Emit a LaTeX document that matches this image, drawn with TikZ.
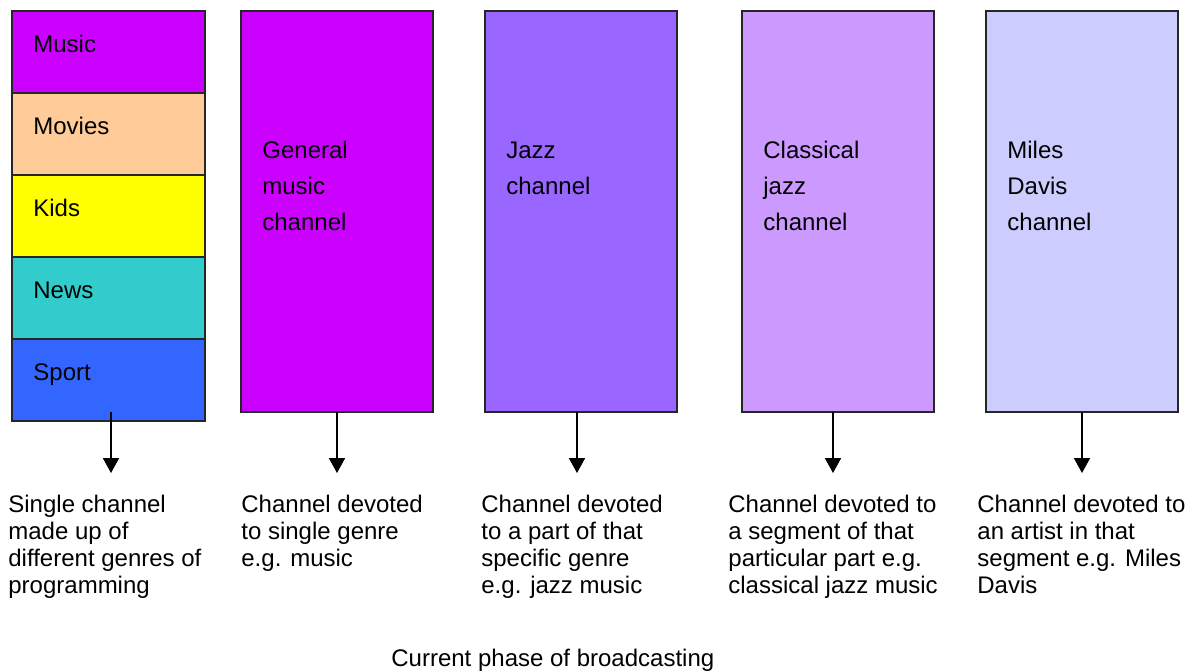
\documentclass[tikz,border=0pt]{standalone}
\usepackage{xcolor}
\usepackage{fontspec}
\setmainfont{Liberation Sans}
\usepackage{tikz}
\usetikzlibrary{positioning,arrows.meta}

\definecolor{musicc}{HTML}{CC00FF}
\definecolor{moviesc}{HTML}{FFCC99}
\definecolor{kidsc}{HTML}{FFFF00}
\definecolor{newsc}{HTML}{33CCCC}
\definecolor{sportc}{HTML}{3366FF}
\definecolor{jazzc}{HTML}{9966FF}
\definecolor{classc}{HTML}{CC99FF}
\definecolor{milesc}{HTML}{CCCCFF}

\begin{document}
\begin{tikzpicture}[
  x=0.5pt, y=-0.5pt,
  font=\fontsize{12}{13.5}\selectfont,
  seg/.style={
    rectangle, draw=black!85, line width=0.8pt,
    minimum width=96.5pt, minimum height=41pt,
    inner sep=0pt, outer sep=0pt
  },
  chan/.style={
    rectangle, draw=black!85, line width=0.8pt,
    minimum width=96pt, minimum height=200.5pt,
    inner sep=0pt, outer sep=0pt
  },
  segtxt/.style={anchor=base west, inner sep=0pt, xshift=10.5pt},
  chantxt/.style={
    anchor=base west, inner sep=0pt, align=left,
    xshift=10.5pt, yshift=-73.5pt,
    font=\fontsize{12}{18}\selectfont
  },
  desc/.style={anchor=base west, inner sep=0pt, align=left},
  arr/.style={-{Triangle[length=7.5pt,width=8pt]}, line width=0.9pt}
]
\useasboundingbox (0,0) rectangle (1195,670);

% --- Mixed channel: stack of genres ---
\node[seg, fill=musicc] (music) at (108.5,52) {};
\node[seg, fill=moviesc, below=0pt of music]  (movies) {};
\node[seg, fill=kidsc,   below=0pt of movies] (kids)   {};
\node[seg, fill=newsc,   below=0pt of kids]   (news)   {};
\node[seg, fill=sportc,  below=0pt of news]   (sport)  {};

\node[segtxt] at (music.west)  {Music};
\node[segtxt] at (movies.west) {Movies};
\node[segtxt] at (kids.west)   {Kids};
\node[segtxt] at (news.west)   {News};
\node[segtxt] at (sport.west)  {Sport};

% --- Ever narrower channels ---
\node[chan, fill=musicc, right=18pt of music.north east, anchor=north west] (general) {};
\node[chan, fill=jazzc,  right=26pt of general]  (jazz)      {};
\node[chan, fill=classc, right=32.5pt of jazz]   (classical) {};
\node[chan, fill=milesc, right=26pt of classical] (miles)    {};

% base anchor sits on the last line, so push 3-line texts one line more
\node[chantxt, yshift=-36pt] at (general.north west)   {General\\music\\channel};
\node[chantxt, yshift=-18pt] at (jazz.north west)      {Jazz\\channel};
\node[chantxt, yshift=-36pt] at (classical.north west) {Classical\\jazz\\channel};
\node[chantxt, yshift=-36pt] at (miles.north west)     {Miles\\Davis\\channel};

% --- Arrows down to the descriptions ---
\coordinate (tipA) at (111,473);
\coordinate (tipB) at (337,473);
\coordinate (tipC) at (577,473);
\coordinate (tipD) at (833,473);
\coordinate (tipE) at (1082,473);

\draw[arr] ([yshift=4.5pt]sport.south -| tipA) -- (tipA);
\draw[arr] (general.south -| tipB) -- (tipB);
\draw[arr] (jazz.south -| tipC) -- (tipC);
\draw[arr] (classical.south -| tipD) -- (tipD);
\draw[arr] (miles.south -| tipE) -- (tipE);

% --- Descriptions (placed at the baseline of their last line) ---
\node[desc] (descA) at (8,593)   {Single channel\\made up of\\different genres of\\programming};
\node[desc] (descB) at (241,566) {Channel devoted\\to single genre\\e.g. music};
\node[desc] (descC) at (481,593) {Channel devoted\\to a part of that\\specific genre\\e.g. jazz music};
\node[desc] (descD) at (728,593) {Channel devoted to\\a segment of that\\particular part e.g.\\classical jazz music};
\node[desc] (descE) at (977,593) {Channel devoted to\\an artist in that\\segment e.g. Miles\\Davis};

\node[desc] (phase) at (391,666) {Current phase of broadcasting};

\end{tikzpicture}
\end{document}
